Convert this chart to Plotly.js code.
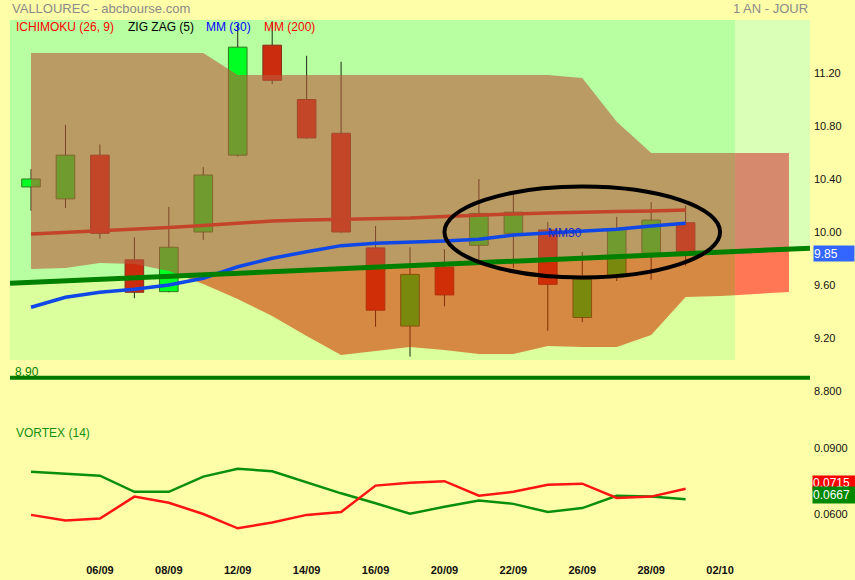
<!DOCTYPE html>
<html>
<head>
<meta charset="utf-8">
<script src="https://cdn.plot.ly/plotly-3.0.1.min.js"></script>
<style>
  html, body { margin: 0; padding: 0; background: #FFFEA8; }
  #chart { width: 855px; height: 580px; }
</style>
</head>
<body>
<div id="chart"></div>
<script>
// ---------------- DATA ----------------
const dates = ['02/09','05/09','06/09','07/09','08/09','09/09','12/09','13/09','14/09','15/09',
               '16/09','19/09','20/09','21/09','22/09','23/09','26/09','27/09','28/09','29/09'];
const openP  = [10.34, 10.25, 10.58, 9.79, 9.55, 10.00, 10.58, 11.41, 11.00, 10.745,
                9.88, 9.29, 9.735, 9.90, 9.99, 10.015, 9.355, 9.675, 9.84, 10.07];
const highP  = [10.475, 10.81, 10.66, 9.96, 10.19, 10.49, 11.57, 11.59, 11.33, 11.285,
                10.045, 9.885, 9.87, 10.40, 10.28, 10.075, 9.85, 10.115, 10.225, 10.20];
const lowP   = [10.16, 10.18, 9.95, 9.50, 9.545, 9.94, 10.57, 11.115, 10.705, 9.995,
                9.285, 9.06, 9.44, 9.79, 9.73, 9.255, 9.32, 9.63, 9.64, 9.745];
const closeP = [10.40, 10.58, 9.99, 9.545, 9.885, 10.43, 11.395, 11.145, 10.71, 10.00,
                9.41, 9.68, 9.525, 10.14, 10.15, 9.605, 9.645, 10.02, 10.09, 9.85];

const mm30  = [9.432, 9.507, 9.545, 9.568, 9.600, 9.651, 9.738, 9.802, 9.851, 9.897,
               9.915, 9.922, 9.932, 9.945, 9.977, 9.992, 10.008, 10.020, 10.045, 10.066];
const mm200 = [9.985, 9.996, 10.008, 10.023, 10.034, 10.049, 10.068, 10.083, 10.091, 10.094,
               10.098, 10.106, 10.117, 10.128, 10.136, 10.143, 10.151, 10.155, 10.158, 10.166];

// Ichimoku cloud spans (extend 3 periods into the future)
const spanUpper = [11.351, 11.351, 11.351, 11.351, 11.351, 11.351,
                   11.185, 11.185, 11.185, 11.185, 11.185, 11.185, 11.185, 11.185, 11.185, 11.185,
                   11.162, 10.832, 10.596, 10.596, 10.596, 10.596, 10.596];
const spanLower = [9.721, 9.728, 9.766, 9.759, 9.706, 9.608, 9.494, 9.366, 9.215, 9.072,
                   9.102, 9.132, 9.109, 9.079, 9.079, 9.140, 9.132, 9.132, 9.223, 9.509,
                   9.517, 9.532, 9.547];

// Vortex (14)
const viPlus  = [0.0792, 0.0783, 0.0774, 0.0701, 0.0701, 0.0770, 0.0806, 0.0794, 0.0744, 0.0694,
                 0.0649, 0.0601, 0.0633, 0.0661, 0.0646, 0.0609, 0.0627, 0.0683, 0.0679, 0.0667];
const viMinus = [0.0596, 0.0570, 0.0579, 0.0679, 0.0651, 0.0600, 0.0535, 0.0561, 0.0596, 0.0609,
                 0.0729, 0.0742, 0.0749, 0.0683, 0.0701, 0.0733, 0.0738, 0.0673, 0.0679, 0.0715];

// user drawings
const trendIdx = [0, 22];
const trendVal = [9.620, 9.871];
const levelLine = 8.90;
const ellipseIdx = [12, 20];
const ellipseVal = [9.657, 10.343];

const tickLabels = ['06/09','08/09','12/09','14/09','16/09','20/09','22/09','26/09','28/09','02/10'];
const priceTicks = [11.2, 10.8, 10.4, 10.0, 9.6, 9.2, 8.8];
const priceTickText = ['11.20','10.80','10.40','10.00','9.60','9.20','8.800'];
const vortexTicks = [0.09, 0.06];
const vortexTickText = ['0.0900','0.0600'];

// ---------------- GEOMETRY / STYLE ----------------
const xRange = [-0.61, 22.61];
const yRange = [8.7321, 11.6];
const y2Range = [0.043636, 0.102727];
const histEnd = 20.435;     // end of the history background
const bgBottom = 9.034;     // bottom of the history background
const FONT = 'Arial, "Liberation Sans", sans-serif';

const idx = dates.map((d, i) => i);
const spanIdx = spanUpper.map((v, i) => i);

function trendAt(x) {
  return trendVal[0] + (x - trendIdx[0]) * (trendVal[1] - trendVal[0]) / (trendIdx[1] - trendIdx[0]);
}
function clip(poly, f) {
  const out = [];
  for (let k = 0; k < poly.length; k++) {
    const P = poly[k], Q = poly[(k + 1) % poly.length];
    const fp = f(P), fq = f(Q);
    if (fp >= 0) out.push(P);
    if ((fp >= 0) !== (fq >= 0)) {
      const t = fp / (fp - fq);
      out.push([P[0] + t * (Q[0] - P[0]), P[1] + t * (Q[1] - P[1])]);
    }
  }
  return out;
}
const above = p => p[1] - trendAt(p[0]);
const below = p => trendAt(p[0]) - p[1];
const hist = p => histEnd - p[0];
const fut = p => p[0] - histEnd;

function toPath(pts) {
  return 'M' + pts.map(p => p[0] + ',' + p[1]).join('L') + 'Z';
}

const histRect = [[xRange[0], bgBottom], [histEnd, bgBottom], [histEnd, yRange[1]], [xRange[0], yRange[1]]];
const futRect = [[histEnd, yRange[0]], [xRange[1], yRange[0]], [xRange[1], yRange[1]], [histEnd, yRange[1]]];

const shapes = [];
function bgShape(pts, color) {
  if (pts.length < 3) return;
  shapes.push({type: 'path', xref: 'x', yref: 'y', path: toPath(pts), fillcolor: color,
               line: {width: 0}, layer: 'below'});
}
bgShape(clip(histRect, above), '#B8FFA2');
bgShape(clip(histRect, below), '#DAFF9C');
bgShape(clip(futRect, above), '#DAFFB6');

// ellipse annotation
shapes.push({type: 'circle', xref: 'x', yref: 'y', x0: ellipseIdx[0], x1: ellipseIdx[1],
             y0: ellipseVal[0], y1: ellipseVal[1], line: {color: '#000', width: 4}, layer: 'above'});

const traces = [];

// candle bodies
const up = idx.map(i => closeP[i] >= openP[i]);
traces.push({
  type: 'bar', x: idx, y: idx.map(i => Math.abs(closeP[i] - openP[i])),
  base: idx.map(i => Math.min(openP[i], closeP[i])), width: 0.54,
  marker: {color: up.map(u => u ? '#00FF22' : '#CC2C0E'),
           line: {color: up.map(u => u ? '#2F7A1E' : '#86301A'), width: 1}},
  hoverinfo: 'skip', xaxis: 'x', yaxis: 'y'
});
// wicks
const wx = [], wy = [];
idx.forEach(i => {
  const top = Math.max(openP[i], closeP[i]), bot = Math.min(openP[i], closeP[i]);
  wx.push(i, i, null, i, i, null);
  wy.push(highP[i], top, null, bot, lowP[i], null);
});
traces.push({type: 'scatter', mode: 'lines', x: wx, y: wy, line: {color: '#1E2A14', width: 1},
             hoverinfo: 'skip', xaxis: 'x', yaxis: 'y'});

// ichimoku cloud (translucent, over candles)
const cloud = spanIdx.map(i => [i, spanUpper[i]]).concat(spanIdx.slice().reverse().map(i => [i, spanLower[i]]));
function cloudPart(f1, f2, color) {
  const pts = clip(clip(cloud, f1), f2);
  if (pts.length < 3) return;
  traces.push({type: 'scatter', mode: 'none', x: pts.map(p => p[0]).concat([pts[0][0]]),
               y: pts.map(p => p[1]).concat([pts[0][1]]), fill: 'toself', fillcolor: color,
               hoverinfo: 'skip', xaxis: 'x', yaxis: 'y'});
}
cloudPart(hist, above, 'rgba(186,88,57,0.6)');
cloudPart(hist, below, 'rgba(211,48,0,0.57)');
cloudPart(fut, above, 'rgba(211,58,59,0.6)');
cloudPart(fut, below, 'rgba(255,28,30,0.6)');

// moving averages
traces.push({type: 'scatter', mode: 'lines', x: idx, y: mm200, line: {color: '#C4442A', width: 3.5},
             hoverinfo: 'skip', xaxis: 'x', yaxis: 'y'});
traces.push({type: 'scatter', mode: 'lines', x: idx, y: mm30, line: {color: '#1048E8', width: 3.5},
             hoverinfo: 'skip', xaxis: 'x', yaxis: 'y'});
// trend line
traces.push({type: 'scatter', mode: 'lines', x: xRange, y: xRange.map(trendAt),
             line: {color: '#008000', width: 5}, hoverinfo: 'skip', xaxis: 'x', yaxis: 'y'});
// horizontal level
traces.push({type: 'scatter', mode: 'lines', x: xRange, y: [levelLine, levelLine],
             line: {color: '#007A00', width: 4}, hoverinfo: 'skip', xaxis: 'x', yaxis: 'y'});

// vortex
traces.push({type: 'scatter', mode: 'lines', x: idx, y: viPlus, line: {color: '#0A8F0A', width: 2.5},
             hoverinfo: 'skip', xaxis: 'x', yaxis: 'y2'});
traces.push({type: 'scatter', mode: 'lines', x: idx, y: viMinus, line: {color: '#FF1414', width: 2.5},
             hoverinfo: 'skip', xaxis: 'x', yaxis: 'y2'});

const last = idx.length - 1;
const y2Top = 130 / 530;

const annotations = [
  {text: 'VALLOUREC - abcbourse.com', xref: 'paper', yref: 'paper', x: 0, y: 1, xanchor: 'left',
   yanchor: 'middle', yshift: 12, showarrow: false, font: {family: FONT, size: 13, color: '#8A8A8A'}},
  {text: '1 AN - JOUR', xref: 'paper', yref: 'paper', x: 1, y: 1, xanchor: 'right',
   yanchor: 'middle', yshift: 12, showarrow: false, font: {family: FONT, size: 13, color: '#8A8A8A'}},
  {text: 'ICHIMOKU (26, 9)', xref: 'paper', yref: 'paper', x: 0, y: 1, xanchor: 'left', xshift: 4,
   yanchor: 'middle', yshift: -7, showarrow: false, font: {family: FONT, size: 12, color: '#FF0000'}},
  {text: 'ZIG ZAG (5)', xref: 'paper', yref: 'paper', x: 0, y: 1, xanchor: 'left', xshift: 116,
   yanchor: 'middle', yshift: -7, showarrow: false, font: {family: FONT, size: 12, color: '#000000'}},
  {text: 'MM (30)', xref: 'paper', yref: 'paper', x: 0, y: 1, xanchor: 'left', xshift: 194,
   yanchor: 'middle', yshift: -7, showarrow: false, font: {family: FONT, size: 12, color: '#0000FF'}},
  {text: 'MM (200)', xref: 'paper', yref: 'paper', x: 0, y: 1, xanchor: 'left', xshift: 252,
   yanchor: 'middle', yshift: -7, showarrow: false, font: {family: FONT, size: 12, color: '#FF0000'}},
  {text: 'MM30', xref: 'x', yref: 'y', x: 15, y: mm30[15], xanchor: 'left', yanchor: 'middle',
   xshift: -2, showarrow: false, font: {family: FONT, size: 12, color: '#1428C8'}},
  {text: levelLine.toFixed(2), xref: 'paper', yref: 'y', x: 0, y: levelLine, xanchor: 'left', xshift: 3,
   yanchor: 'bottom', yshift: -3, showarrow: false, font: {family: FONT, size: 12, color: '#008000'}},
  {text: closeP[last].toFixed(2), xref: 'paper', yref: 'y', x: 1, y: closeP[last], xanchor: 'left',
   xshift: 3, yanchor: 'middle', yshift: -2, showarrow: false, bgcolor: '#3366FF', width: 40, height: 15,
   align: 'left', borderpad: 0, font: {family: FONT, size: 12, color: '#FFFFFF'}},
  {text: 'VORTEX (14)', xref: 'paper', yref: 'paper', x: 0, y: y2Top, xanchor: 'left', xshift: 4,
   yanchor: 'middle', yshift: -13, showarrow: false, font: {family: FONT, size: 12, color: '#129012'}},
  {text: viMinus[last].toFixed(4), xref: 'paper', yref: 'y2', x: 1, y: viMinus[last], xanchor: 'left',
   xshift: 2, yanchor: 'middle', yshift: 6, showarrow: false, bgcolor: '#FF0000', width: 43, height: 14,
   align: 'left', borderpad: 0, font: {family: FONT, size: 12, color: '#FFFFFF'}},
  {text: viPlus[last].toFixed(4), xref: 'paper', yref: 'y2', x: 1, y: viPlus[last], xanchor: 'left',
   xshift: 2, yanchor: 'middle', yshift: 4, showarrow: false, bgcolor: '#008800', width: 43, height: 16,
   align: 'left', borderpad: 0, font: {family: FONT, size: 12, color: '#FFFFFF'}}
];

const layout = {
  width: 855, height: 580,
  margin: {l: 10, r: 45, t: 20, b: 30},
  paper_bgcolor: '#FFFEA8', plot_bgcolor: 'rgba(0,0,0,0)',
  showlegend: false, hovermode: false, barmode: 'overlay',
  font: {family: FONT, size: 11, color: '#111'},
  xaxis: {range: xRange, anchor: 'y2', showgrid: false, zeroline: false, showline: false, ticks: '',
          tickvals: tickLabels.map((t, k) => 2 + 2 * k), ticktext: tickLabels.map(t => '<b>' + t + '</b>'),
          tickfont: {family: FONT, size: 11, color: '#111'}, ticklabelstandoff: 12},
  yaxis: {domain: [150 / 530, 1], range: yRange, side: 'right', anchor: 'x', showgrid: false,
          zeroline: false, showline: false, ticks: '', tickvals: priceTicks, ticktext: priceTickText,
          tickfont: {family: FONT, size: 11, color: '#111'}, ticklabelstandoff: 3},
  yaxis2: {domain: [0, y2Top], range: y2Range, side: 'right', anchor: 'x', showgrid: false,
           zeroline: false, showline: false, ticks: '', tickvals: vortexTicks, ticktext: vortexTickText,
           tickfont: {family: FONT, size: 11, color: '#111'}, ticklabelstandoff: 3},
  shapes: shapes,
  annotations: annotations
};

Plotly.newPlot('chart', traces, layout, {staticPlot: true, displayModeBar: false});
</script>
</body>
</html>
